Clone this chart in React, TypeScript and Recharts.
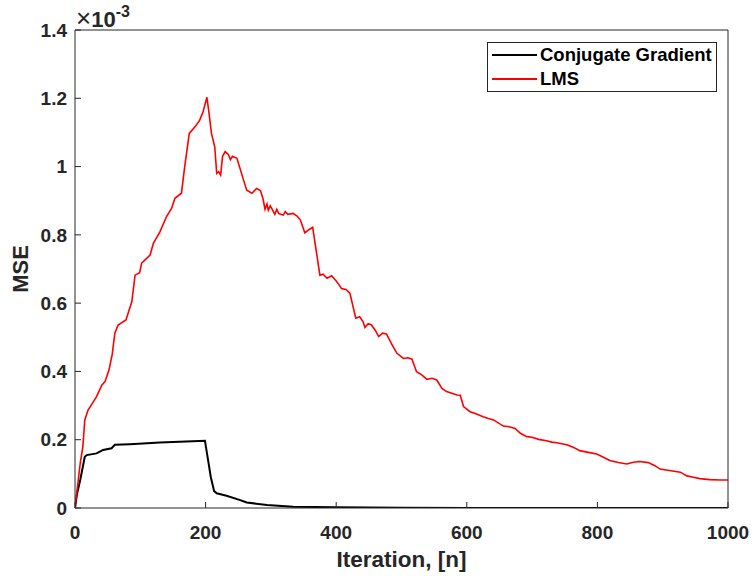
import React from "react";
import { LineChart, Line, XAxis, YAxis, Legend } from "recharts";

// iterations and MSE (x1e-3)
const lmsIter = [
  0, 3, 5, 8, 12, 15, 20, 28, 33, 41, 46, 52, 57, 61, 66, 78, 87, 92, 99, 102,
  115, 120, 130, 140, 148, 153, 163, 168, 175, 184, 191, 196, 202, 205, 209, 214,
  217, 220, 223, 226, 230, 235, 238, 241, 248, 258, 263, 271, 278, 284, 288, 291,
  294, 296, 299, 301, 306, 309, 312, 319, 322, 326, 334, 340, 345, 352, 358, 364,
  370, 375, 380, 386, 393, 400, 404, 408, 415, 421, 430, 436, 441, 444, 449, 454,
  460, 465, 471, 477, 485, 493, 503, 510, 516, 523, 531, 539, 547, 554, 562, 569,
  577, 585, 590, 595, 605, 615, 625, 633, 641, 656, 665, 674, 682, 692, 700, 710,
  722, 730, 738, 753, 763, 773, 786, 799, 810, 819, 832, 845, 855, 865, 878, 888,
  896, 910, 927, 937, 947, 957, 972, 988, 1000,
];
const lmsMse = [
  0, 0.05, 0.082, 0.131, 0.18, 0.258, 0.287, 0.311, 0.326, 0.36, 0.37, 0.404, 0.45,
  0.512, 0.536, 0.551, 0.604, 0.682, 0.689, 0.717, 0.741, 0.775, 0.809, 0.853, 0.878,
  0.907, 0.922, 1.0, 1.097, 1.117, 1.136, 1.16, 1.203, 1.16, 1.097, 1.058, 0.98, 0.985,
  0.975, 1.03, 1.044, 1.035, 1.02, 1.03, 1.024, 0.961, 0.931, 0.922, 0.936, 0.93, 0.905,
  0.875, 0.89, 0.872, 0.885, 0.878, 0.86, 0.875, 0.862, 0.858, 0.868, 0.86, 0.863,
  0.855, 0.844, 0.806, 0.815, 0.822, 0.746, 0.682, 0.685, 0.673, 0.68, 0.665, 0.655,
  0.643, 0.64, 0.629, 0.556, 0.56, 0.546, 0.529, 0.54, 0.536, 0.52, 0.502, 0.512, 0.51,
  0.48, 0.453, 0.438, 0.44, 0.436, 0.399, 0.39, 0.377, 0.38, 0.375, 0.35, 0.341, 0.336,
  0.331, 0.33, 0.297, 0.282, 0.275, 0.267, 0.262, 0.258, 0.24, 0.238, 0.233, 0.219,
  0.209, 0.207, 0.201, 0.197, 0.193, 0.191, 0.185, 0.178, 0.168, 0.163, 0.158, 0.148,
  0.139, 0.133, 0.129, 0.134, 0.136, 0.133, 0.124, 0.114, 0.11, 0.105, 0.094, 0.09,
  0.086, 0.083, 0.082, 0.082,
];

const cgIter = [
  0, 3, 8, 15, 18, 33, 43, 56, 61, 84, 130, 170, 199, 203, 208, 213, 217, 232, 253,
  263, 294, 334, 400, 500, 600, 1000,
];
const cgMse = [
  0, 0.04, 0.082, 0.15, 0.155, 0.16, 0.17, 0.175, 0.185, 0.187, 0.192, 0.195, 0.197,
  0.15, 0.09, 0.05, 0.043, 0.036, 0.023, 0.016, 0.009, 0.004, 0.002, 0.001, 0.0003, 0,
];

const xTicks = [0, 200, 400, 600, 800, 1000];
const yTicks = [0, 0.2, 0.4, 0.6, 0.8, 1, 1.2, 1.4];

const lmsData = lmsIter.map((n, i) => ({ n, mse: lmsMse[i] }));
const cgData = cgIter.map((n, i) => ({ n, mse: cgMse[i] }));

const axisColor = "#262626";
const tickFont = { fill: axisColor, fontSize: 19, fontWeight: "bold" };

const renderLegend = (props: any) => {
  const { payload } = props;
  return (
    <div
      style={{
        border: `1px solid ${axisColor}`,
        background: "#fff",
        width: 228,
        fontFamily: '"Liberation Sans", Arial, sans-serif',
      }}
    >
      {payload.map((entry: any) => (
        <div key={entry.value} style={{ display: "flex", alignItems: "center", height: 24 }}>
          <span
            style={{
              display: "inline-block",
              width: 45,
              height: 2,
              background: entry.color,
              marginLeft: 4,
              marginRight: 3,
            }}
          />
          <span style={{ fontSize: 18.5, fontWeight: "bold", color: "#000" }}>{entry.value}</span>
        </div>
      ))}
    </div>
  );
};

export default function App() {
  return (
    <div
      style={{
        position: "absolute",
        left: 0,
        top: 0,
        width: 754,
        height: 576,
        background: "#fff",
        fontFamily: '"Liberation Sans", Arial, sans-serif',
      }}
    >
      <LineChart
        width={754}
        height={576}
        margin={{ top: 29, right: 25, bottom: 0, left: 0 }}
        style={{ fontFamily: '"Liberation Sans", Arial, sans-serif' }}
      >
        <XAxis
          xAxisId="b"
          type="number"
          dataKey="n"
          domain={[0, 1000]}
          ticks={xTicks}
          allowDataOverflow
          height={68}
          tickSize={-6}
          tickMargin={24}
          stroke={axisColor}
          tick={tickFont}
          label={{
            value: "Iteration, [n]",
            position: "insideBottom",
            offset: 9,
            fill: axisColor,
            fontSize: 22.5,
            fontWeight: "bold",
          }}
        />
        <XAxis
          xAxisId="t"
          type="number"
          orientation="top"
          domain={[0, 1000]}
          ticks={xTicks}
          allowDataOverflow
          height={1}
          tickSize={-6}
          tick={false}
          stroke={axisColor}
        />
        <YAxis
          yAxisId="l"
          type="number"
          domain={[0, 1.4]}
          ticks={yTicks}
          allowDataOverflow
          width={75}
          tickSize={-6}
          tickMargin={14}
          stroke={axisColor}
          tick={tickFont}
          label={{
            value: "MSE",
            angle: -90,
            position: "insideLeft",
            offset: 20,
            style: { textAnchor: "middle" },
            fill: axisColor,
            fontSize: 22,
            fontWeight: "bold",
          }}
        />
        <YAxis
          yAxisId="r"
          type="number"
          orientation="right"
          domain={[0, 1.4]}
          ticks={yTicks}
          allowDataOverflow
          width={1}
          tickSize={-6}
          tick={false}
          stroke={axisColor}
        />
        <Legend
          layout="vertical"
          align="center"
          verticalAlign="middle"
          content={renderLegend}
          wrapperStyle={{ left: 487, top: 42, width: "auto", height: "auto" }}
        />
        <Line
          xAxisId="b"
          yAxisId="l"
          data={cgData}
          dataKey="mse"
          name="Conjugate Gradient"
          type="linear"
          stroke="#000000"
          strokeWidth={2}
          dot={false}
          isAnimationActive={false}
        />
        <Line
          xAxisId="b"
          yAxisId="l"
          data={lmsData}
          dataKey="mse"
          name="LMS"
          type="linear"
          stroke="#ff0000"
          strokeWidth={1.6}
          dot={false}
          isAnimationActive={false}
        />
      </LineChart>
      <div
        style={{
          position: "absolute",
          left: 76,
          top: 6,
          lineHeight: "24px",
          color: axisColor,
          whiteSpace: "nowrap",
        }}
      >
        <span style={{ fontSize: 26, fontWeight: "normal" }}>×</span>
        <span style={{ fontSize: 22, fontWeight: "bold" }}>10</span>
        <span style={{ fontSize: 16, fontWeight: "bold", verticalAlign: "10px", lineHeight: 0 }}>
          -3
        </span>
      </div>
    </div>
  );
}
